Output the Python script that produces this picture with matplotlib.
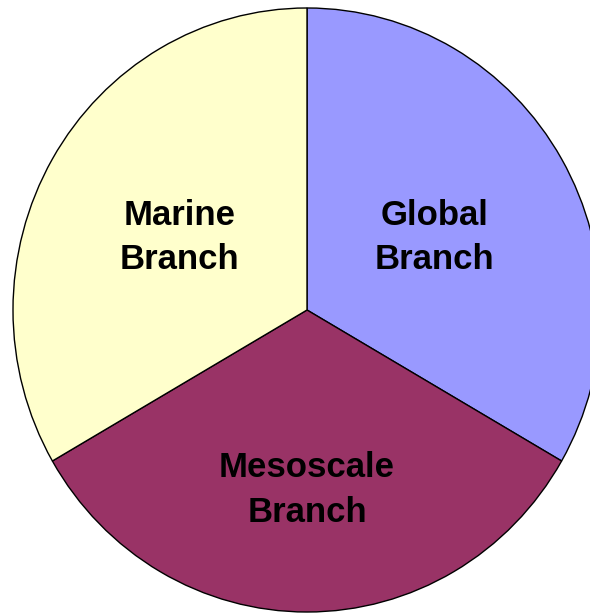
import numpy as np
import matplotlib.pyplot as plt
from matplotlib.transforms import ScaledTranslation

branches = ["Global\nBranch", "Mesoscale\nBranch", "Marine\nBranch"]
shares = [1, 1, 1]
colors = ["#9999FF", "#993366", "#FFFFCC"]
label_radius = [0.50, 0.585, 0.50]

plt.rcParams["font.family"] = ["Liberation Sans", "DejaVu Sans"]

fig = plt.figure(figsize=(5.9, 6.13), dpi=100)
ax = fig.add_axes([0, 0, 1, 1])

# pie is a touch taller than wide
rx, ry = 294, 302
stretch = ry / rx
cx, cy = 307, (613 - 310) / stretch

wedges, _ = ax.pie(shares, colors=colors, startangle=90, counterclock=False,
                   center=(cx, cy), radius=rx, frame=True,
                   wedgeprops=dict(edgecolor="black", linewidth=1))
ax.set_aspect("auto")
ax.set_xlim(0, 590)
ax.set_ylim(0, 613 / stretch)
ax.axis("off")

# nudge the two-line labels down a little so they sit optically centred
nudge = ax.transData + ScaledTranslation(0, -3 / 100, fig.dpi_scale_trans)
for w, lab, lr in zip(wedges, branches, label_radius):
    mid = np.deg2rad((w.theta1 + w.theta2) / 2)
    ax.text(cx + lr * rx * np.cos(mid), cy + lr * rx * np.sin(mid), lab,
            ha="center", va="center", fontsize=25, fontweight="bold",
            linespacing=1.45, transform=nudge)

fig.savefig("out.png", dpi=100)
